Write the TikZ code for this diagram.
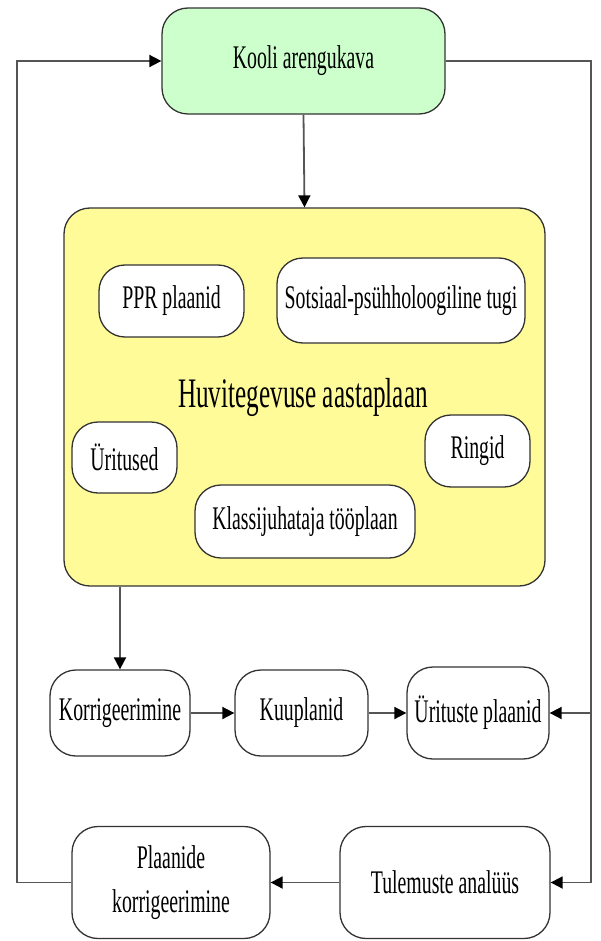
\documentclass[tikz,border=0pt]{standalone}
\usepackage{fontspec}
\setmainfont{Liberation Serif}[FakeStretch=0.6]
\usetikzlibrary{arrows.meta}
\definecolor{boxgreen}{HTML}{CCFFCC}
\definecolor{boxyellow}{HTML}{FFFB99}
\definecolor{edgegray}{HTML}{333333}
\definecolor{linegray}{HTML}{555555}
\begin{document}
\begin{tikzpicture}[x=1pt,y=-1pt,
  box/.style={draw=edgegray, line width=1.3pt, rounded corners=26pt, fill=white,
    inner sep=0pt, align=center, font=\fontsize{33}{44}\selectfont},
  conn/.style={draw=linegray, line width=1.8pt, -{Triangle[length=12pt,width=12pt,color=black]}},
  plain/.style={draw=linegray, line width=1.8pt}]
\useasboundingbox (0,0) rectangle (600,941);
\fill[white] (0,0) rectangle (600,941);
\node[box, fill=boxgreen, minimum width=283pt, minimum height=106pt] (green) at (303.5,61) {Kooli arengukava};
\node[box, fill=boxyellow, minimum width=481pt, minimum height=378pt, rounded corners=26pt] (yellow) at (304.5,397) {};
\node[font=\fontsize{42}{48}\selectfont, inner sep=0pt, anchor=base] (title) at (303,407) {Huvitegevuse aastaplaan};
\node[box, minimum width=145pt, minimum height=72pt] (ppr) at (171.5,301) {PPR plaanid};
\node[box, minimum width=248pt, minimum height=85pt] (sots) at (401,300.5) {Sotsiaal-psühholoogiline tugi};
\node[box, minimum width=105pt, minimum height=71pt] (urit) at (124.5,457.5) {Üritused};
\node[box, minimum width=105pt, minimum height=72pt] (ringid) at (477.5,451) {Ringid};
\node[box, minimum width=220pt, minimum height=73pt] (klass) at (305,521.5) {Klassijuhataja tööplaan};
\node[box, minimum width=140pt, minimum height=86pt] (korr) at (120,713) {Korrigeerimine};
\node[box, minimum width=133pt, minimum height=86pt] (kuu) at (301.5,713) {Kuuplanid};
\node[box, minimum width=142pt, minimum height=92pt] (uplaan) at (478,713) {Ürituste plaanid};
\node[box, minimum width=198pt, minimum height=112pt] (plk) at (171,882.5) {Plaanide\\korrigeerimine};
\node[box, minimum width=210pt, minimum height=112pt] (tul) at (445,882.5) {Tulemuste analüüs};
\coordinate (R1) at (591,61);
\coordinate (R2) at (591,882.5);
\coordinate (L1) at (17,61);
\coordinate (L2) at (17,882.5);
\draw[conn] (green.south) -- (yellow.north);
\draw[conn] (korr.north |- yellow.south) -- (korr.north);
\draw[conn] (korr.east) -- (kuu.west);
\draw[conn] (kuu.east) -- (uplaan.west);
\draw[plain] (green.east) -- (R1) -- (R2);
\draw[conn] (R2) -- (tul.east);
\draw[conn] (R1 |- uplaan.east) -- (uplaan.east);
\draw[conn] (tul.west) -- (plk.east);
\draw[conn] (plk.west) -- (L2) -- (L1) -- (green.west);
\end{tikzpicture}
\end{document}
